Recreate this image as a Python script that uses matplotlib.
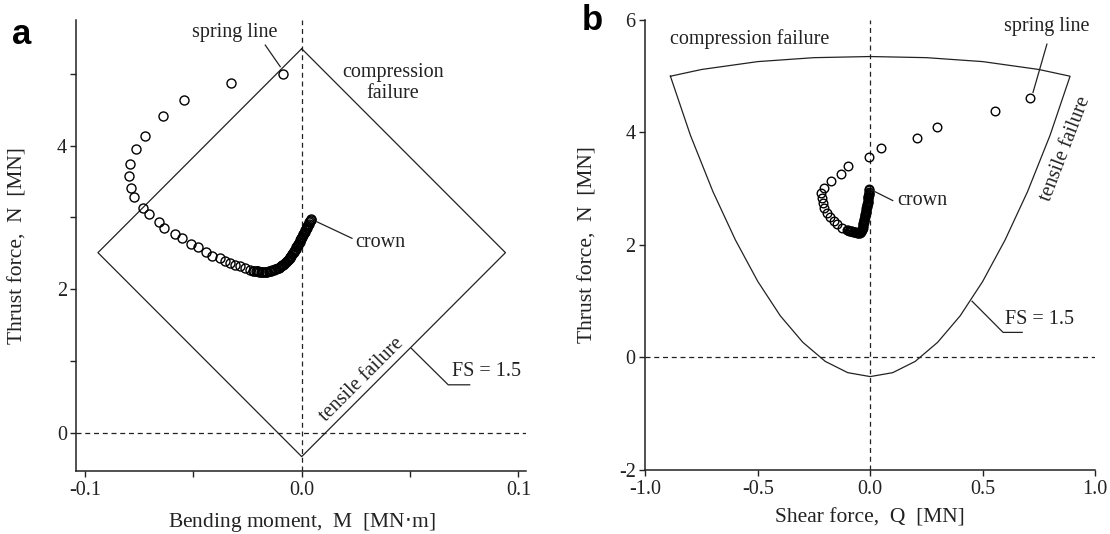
import matplotlib
matplotlib.use("Agg")
import matplotlib.pyplot as plt

plt.rcParams["font.family"] = ["Liberation Serif", "DejaVu Serif"]
plt.rcParams["axes.unicode_minus"] = False

# ---- panel a: bending moment M [MN.m] vs thrust N [MN]
moment = [-0.0087, -0.0325, -0.0544, -0.0641, -0.0725, -0.0765, -0.0793, -0.0797,
          -0.0787, -0.0773, -0.0733, -0.0704, -0.0658, -0.0633, -0.0584, -0.0553,
          -0.0510, -0.0479, -0.0441, -0.0412, -0.0379, -0.0353, -0.0330, -0.0307,
          -0.0284, -0.0261, -0.0238,
          -0.0225, -0.0219, -0.0213, -0.0207, -0.0201, -0.0195, -0.0189, -0.0183,
          -0.0177, -0.0171, -0.0165, -0.0159, -0.0153, -0.0147, -0.0141, -0.0135,
          -0.0129, -0.0123, -0.0117, -0.0111, -0.0105, -0.0100, -0.0095, -0.0090,
          -0.0085, -0.0080, -0.0076, -0.0072, -0.0068, -0.0064, -0.0060, -0.0056,
          -0.0052, -0.0048, -0.0044, -0.0040, -0.0037, -0.0034, -0.0031, -0.0028,
          -0.0025, -0.0022, -0.0019, -0.0016, -0.0013, -0.0010, -0.0007, -0.0004,
          -0.0001, 0.0002, 0.0005, 0.0008, 0.0011, 0.0014, 0.0017, 0.0020,
          0.0023, 0.0026, 0.0029, 0.0032, 0.0035, 0.0038, 0.0041, 0.0044]
thrust_a = [5.00, 4.87, 4.64, 4.41, 4.14, 3.95, 3.74, 3.58,
            3.41, 3.28, 3.13, 3.05, 2.93, 2.86, 2.77, 2.71,
            2.63, 2.59, 2.52, 2.47, 2.43, 2.40, 2.37, 2.34,
            2.32, 2.29, 2.27,
            2.260, 2.257, 2.254, 2.251, 2.248, 2.245, 2.243, 2.241,
            2.240, 2.240, 2.241, 2.244, 2.248, 2.253, 2.258, 2.264,
            2.270, 2.277, 2.285, 2.293, 2.302, 2.312, 2.322, 2.333,
            2.345, 2.357, 2.370, 2.383, 2.397, 2.411, 2.425, 2.440,
            2.455, 2.470, 2.486, 2.502, 2.518, 2.534, 2.550, 2.566,
            2.582, 2.598, 2.614, 2.630, 2.647, 2.664, 2.681, 2.698,
            2.715, 2.732, 2.750, 2.768, 2.786, 2.804, 2.822, 2.840,
            2.858, 2.876, 2.894, 2.912, 2.930, 2.948, 2.966, 2.984]

# FS = 1.5 envelope, M-N
env_a_m = [0.0, 0.094, 0.0, -0.094, 0.0]
env_a_n = [5.35, 2.51, -0.33, 2.51, 5.35]

# ---- panel b: shear force Q [MN] vs thrust N [MN]
shear = [0.710, 0.557, 0.298, 0.206, 0.047, -0.005, -0.100, -0.130,
         -0.175, -0.205, -0.218, -0.216, -0.211, -0.204, -0.193, -0.178,
         -0.163, -0.146, -0.127, -0.105, -0.100, -0.095, -0.090, -0.086,
         -0.082, -0.078, -0.072, -0.068, -0.065,
         -0.060, -0.055, -0.050, -0.046, -0.042, -0.039, -0.037, -0.035,
         -0.034, -0.033, -0.032, -0.031, -0.030, -0.029, -0.028, -0.027,
         -0.026, -0.025, -0.024, -0.023, -0.022, -0.021, -0.020, -0.019,
         -0.018, -0.017, -0.016, -0.015, -0.014, -0.013, -0.012, -0.011,
         -0.010, -0.0095, -0.009, -0.0085, -0.008, -0.0075, -0.007, -0.0065,
         -0.006, -0.0055, -0.005]
thrust_b = [4.62, 4.38, 4.10, 3.91, 3.72, 3.57, 3.40, 3.27,
            3.13, 3.02, 2.92, 2.83, 2.74, 2.65, 2.56, 2.49,
            2.43, 2.37, 2.31, 2.27, 2.262, 2.255, 2.25, 2.245,
            2.24, 2.236, 2.23, 2.227, 2.225,
            2.22, 2.215, 2.215, 2.22, 2.23, 2.245, 2.265, 2.29,
            2.31, 2.33, 2.35, 2.37, 2.39, 2.41, 2.43, 2.45,
            2.47, 2.49, 2.51, 2.53, 2.55, 2.57, 2.59, 2.61,
            2.63, 2.65, 2.67, 2.69, 2.71, 2.73, 2.75, 2.77,
            2.79, 2.81, 2.83, 2.85, 2.87, 2.89, 2.91, 2.93,
            2.95, 2.97, 2.99]

# FS = 1.5 envelope, Q-N (top arc, then lower curve back to the start)
env_b_q = [-0.889, -0.75, -0.5, -0.25, 0.0, 0.25, 0.5, 0.75, 0.889,
           0.8, 0.7, 0.6, 0.5, 0.4, 0.3, 0.2, 0.1, 0.0,
           -0.1, -0.2, -0.3, -0.4, -0.5, -0.6, -0.7, -0.8, -0.889]
env_b_n = [5.00, 5.12, 5.26, 5.33, 5.35, 5.33, 5.26, 5.12, 5.00,
           3.95, 2.95, 2.09, 1.35, 0.74, 0.27, -0.07, -0.27, -0.34,
           -0.27, -0.07, 0.27, 0.74, 1.35, 2.09, 2.95, 3.95, 5.00]

ink = "#222222"
line_kw = dict(color=ink, lw=0.9)
dash_kw = dict(color=ink, lw=0.9, ls=(0, (4, 3)))
pt_kw = dict(ls="none", marker="o", mfc="none", mec="black", mew=1.0)
fs = 14.5     # annotations and tick labels
fs_lab = 15.5  # axis titles

fig = plt.figure(figsize=(11.1, 5.34), dpi=100)
ax_a = fig.add_axes([0.0689, 0.118, 0.4054, 0.8446])
ax_b = fig.add_axes([0.5815, 0.1199, 0.405, 0.8427])

for ax in (ax_a, ax_b):
    for side in ("top", "right"):
        ax.spines[side].set_visible(False)
    for side in ("left", "bottom"):
        ax.spines[side].set_linewidth(1.1)
        ax.spines[side].set_color(ink)
    ax.tick_params(direction="out", length=4, width=1, labelsize=fs, pad=3,
                   colors=ink)

# ---- panel a
ax_a.set_xlim(-0.1039, 0.1037)
ax_a.set_ylim(-0.53, 5.75)
ax_a.set_xticks([-0.1, -0.05, 0.0, 0.05, 0.1])
ax_a.set_xticklabels(["-0.1", "", "0.0", "", "0.1"])
ax_a.set_yticks([0, 1, 2, 3, 4, 5])
ax_a.set_yticklabels(["0", "", "2", "", "4", ""])
ax_a.axhline(0, **dash_kw)
ax_a.axvline(0, **dash_kw)
ax_a.plot(env_a_m, env_a_n, **line_kw)
ax_a.plot(moment, thrust_a, ms=6.5, **pt_kw)

ax_a.set_xlabel("Bending moment,  M  [MN$\\cdot$m]", fontsize=fs_lab, color=ink)
ax_a.xaxis.set_label_coords(0.5, -0.088)
ax_a.set_ylabel("Thrust force,  N  [MN]", fontsize=fs_lab, color=ink)
ax_a.yaxis.set_label_coords(-0.108, 0.5)

ax_a.text(-0.0309, 5.57, "spring line", fontsize=fs, ha="center", va="center", color=ink)
ax_a.plot([-0.0168, -0.0099], [5.40, 5.10], **line_kw)
ax_a.text(0.0422, 4.87, "compression\nfailure", fontsize=fs, ha="center", va="center",
          color=ink, linespacing=1.1)
ax_a.text(0.0247, 2.65, "crown", fontsize=fs, ha="left", va="center", color=ink)
ax_a.plot([0.0070, 0.0232], [2.94, 2.71], **line_kw)
ax_a.text(0.0279, 0.74, "tensile failure", fontsize=fs, ha="center", va="center",
          rotation=45, rotation_mode="anchor", color=ink)
ax_a.plot([0.0505, 0.0676, 0.0775], [1.18, 0.67, 0.67], **line_kw)
ax_a.text(0.0695, 0.85, "FS = 1.5", fontsize=fs, ha="left", va="center", color=ink)

# ---- panel b
ax_b.set_xlim(-1.0, 1.0)
ax_b.set_ylim(-2, 6)
ax_b.set_xticks([-1.0, -0.5, 0.0, 0.5, 1.0])
ax_b.set_xticklabels(["-1.0", "-0.5", "0.0", "0.5", "1.0"])
ax_b.set_yticks([-2, 0, 2, 4, 6])
ax_b.axhline(0, **dash_kw)
ax_b.axvline(0, **dash_kw)
ax_b.plot(env_b_q, env_b_n, **line_kw)
ax_b.plot(shear, thrust_b, ms=6.2, **pt_kw)

ax_b.set_xlabel("Shear force,  Q  [MN]", fontsize=fs_lab, color=ink)
ax_b.xaxis.set_label_coords(0.5, -0.085)
ax_b.set_ylabel("Thrust force,  N  [MN]", fontsize=fs_lab, color=ink)
ax_b.yaxis.set_label_coords(-0.106, 0.5)

ax_b.text(-0.889, 5.66, "compression failure", fontsize=fs, ha="left", va="center", color=ink)
ax_b.text(0.787, 5.89, "spring line", fontsize=fs, ha="center", va="center", color=ink)
ax_b.plot([0.786, 0.724], [5.57, 4.71], **line_kw)
ax_b.text(0.12, 2.79, "crown", fontsize=fs, ha="left", va="center", color=ink)
ax_b.plot([0.005, 0.10], [2.98, 2.79], **line_kw)
ax_b.text(0.867, 3.71, "tensile failure", fontsize=fs, ha="center", va="center",
          rotation=69, rotation_mode="anchor", color=ink)
ax_b.plot([0.453, 0.591, 0.676], [1.0, 0.446, 0.446], **line_kw)
ax_b.text(0.60, 0.68, "FS = 1.5", fontsize=fs, ha="left", va="center", color=ink)

fig.text(0.011, 0.935, "a", fontsize=25, fontweight="bold", family="Liberation Sans",
         ha="left", va="center")
fig.text(0.524, 0.962, "b", fontsize=25, fontweight="bold", family="Liberation Sans",
         ha="left", va="center")

fig.savefig("out.png", dpi=100)
